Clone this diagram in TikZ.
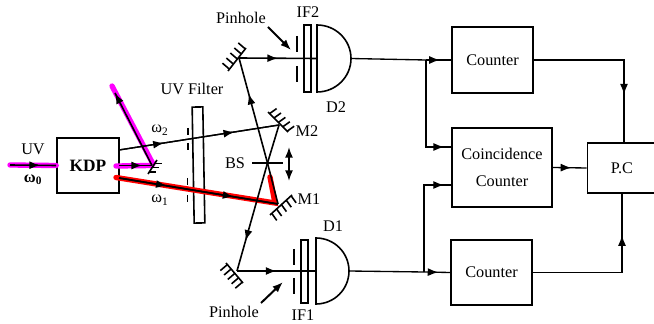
\documentclass[tikz,border=0pt]{standalone}
\usepackage{fontspec}
\setmainfont{Liberation Serif}
\usetikzlibrary{arrows.meta,calc,decorations.markings}
\tikzset{
  box/.style={draw,line width=1.2pt,inner sep=0pt,align=center},
  thin line/.style={line width=1pt},
  beam/.style={line width=1.2pt},
  glow/.style={line width=4pt,line cap=round},
  midtip/.style={postaction={decorate},decoration={markings,mark=at position #1 with {\arrow{Latex[length=8pt,width=6pt]}}}},
  txt/.style={inner sep=0pt,font=\fontsize{12.2pt}{14pt}\selectfont},
}
\definecolor{uvpink}{RGB}{255,0,255}
\definecolor{irred}{RGB}{255,0,0}
% mirror: hatch positions, two ends and the offset of its hatching
\newcommand{\mirror}[4]{
  \draw [line width=1.2pt] (#2) -- (#3);
  \foreach \t in {#1}
    \draw [line width=1.2pt] ($(#2)!\t!(#3)$) -- ++(#4);
}
\begin{document}
\begin{tikzpicture}[x=0.75pt,y=-0.75pt]
  \useasboundingbox (0,0) rectangle (654,324);
  % boxes
  \node [box,minimum width=46.5pt,minimum height=41.25pt,font=\bfseries\fontsize{13pt}{14pt}\selectfont] (kdp) at (88,165.5) {KDP};
  \node [box,minimum width=60.75pt,minimum height=49.5pt,txt] (countertop) at (492.5,60) {Counter};
  \node [box,minimum width=75pt,minimum height=59.25pt,txt] (coincidence) at (502,167.5) {Coincidence\\[6pt]Counter};
  \node [box,minimum width=60.75pt,minimum height=48.75pt,txt] (counterbot) at (491.5,272.5) {Counter};
  \node [box,minimum width=52pt,minimum height=37.5pt,txt] (pc) at (622,168) {P.C};
  \node [box,minimum width=8pt,minimum height=87pt,rotate=1] (filter) at (198.5,165) {};
  \node [box,minimum width=5.25pt,minimum height=50pt] (iftwo) at (307.5,58.5) {};
  \node [box,minimum width=5.25pt,minimum height=47.25pt] (ifone) at (304.5,271.5) {};
  % points of the beams
  \coordinate (uvin) at (10,165);
  \coordinate (kdpout) at (119,165.5);
  \coordinate (turn) at (152,165.5);
  \coordinate (dump) at (115,93);
  \coordinate (dumpend) at (112,86);
  \coordinate (omtwo) at (119,150);
  \coordinate (omone) at (119,178);
  \coordinate (mtwo) at (279,125);
  \coordinate (mone) at (278,204);
  \coordinate (bs) at (267.5,163);
  \coordinate (mtop) at (239,58);
  \coordinate (mbot) at (237,271);
  % detectors
  \draw [line width=1.2pt] (317,25) arc [start angle=-90,end angle=90,x radius=34,y radius=33.5] -- cycle;
  \draw [line width=1.2pt] (316,238) arc [start angle=-90,end angle=90,x radius=33,y radius=33] -- cycle;
  \coordinate (dtwoin) at (317,58.5);
  \coordinate (dtwoout) at (351,58.5);
  \coordinate (doneout) at (349,271);
  \coordinate (donein) at (316,271);
  % pink and red underlay
  \draw [glow,uvpink] (uvin) -- (kdp.west);
  \draw [glow,uvpink] (116,166) -- (turn);
  \draw [glow,uvpink] (153,164) -- (dumpend);
  \draw [glow,irred] (116,177.5) -- (275,203) -- (270,177);
  % beams
  \draw [beam,midtip=0.65] (uvin) -- (kdp.west);
  \draw [beam,midtip=0.7] (kdpout) -- (turn);
  \draw [beam,midtip=1] (turn) -- (dump);
  \draw [thin line,midtip=0.28] (omtwo) -- (mtwo);
  \draw [thin line,midtip=0.72] (omtwo) -- (mtwo);
  \draw [beam,midtip=0.3] (omone) -- (mone);
  \draw [beam,midtip=0.72] (omone) -- (mone);
  \draw [beam] (mtwo) -- (bs) -- (mone);
  \draw [beam,midtip=0.66] (bs) -- (mtop);
  \draw [beam,midtip=0.72] (bs) -- (mbot);
  \draw [beam,midtip=0.5] (mtop) -- (dtwoin);
  \draw [beam,midtip=0.5] (mbot) -- (donein);
  \draw [thin line] (252,163) -- (283,163);
  % mirrors
  \mirror{0.15,0.45,0.75}{148,174}{157,160}{7,0}
  \mirror{0.08,0.3,0.52,0.74,0.96}{228,71}{246,48}{-7,-6}
  \mirror{0.08,0.3,0.52,0.74,0.96}{268,112}{288,132}{7,-5}
  \mirror{0.08,0.3,0.52,0.74,0.96}{270,215}{292,195}{5,7}
  \mirror{0.08,0.3,0.52,0.74,0.96}{226,263}{243,283}{-7,6}
  % slits
  \foreach \a/\b in {188/128,188/143,187.5/178,187.5/195}
    \draw [line width=1.2pt] (\a,\b) -- ++(0,7.5);
  \foreach \a/\b in {297/36,297/66,294/249,294/278}
    \draw [line width=1.2pt] (\a,\b) -- ++(0,16);
  % translation arrow
  \coordinate (shiftup) at (289,147);
  \coordinate (shiftdown) at (289,181);
  \draw [line width=1.2pt,{Latex[length=8pt,width=6pt]}-{Latex[length=8pt,width=6pt]}] (shiftup) -- (shiftdown);
  % pinhole arrows
  \node [txt] (pintop) at (241,18) {Pinhole};
  \node [txt] (pinbot) at (234,312) {Pinhole};
  \coordinate (pintoptip) at (291,50);
  \coordinate (pinbottip) at (283,282);
  \draw [line width=1.5pt,-{Latex[length=8pt,width=6pt]}] (268,27) -- (pintoptip);
  \draw [line width=1.5pt,-{Latex[length=8pt,width=6pt]}] (261,303) -- (pinbottip);
  % signal lines
  \coordinate (jtop) at (426,60);
  \coordinate (jbot) at (424,272);
  \draw [thin line] (dtwoout) -- (jtop);
  \draw [thin line,midtip=0.55] (jtop) -- (countertop.west);
  \draw [thin line,midtip=0.93] (jtop) |- (452,147);
  \draw [thin line] (doneout) -- (jbot);
  \draw [thin line,midtip=0.55] (jbot) -- (counterbot.west);
  \draw [thin line,midtip=0.93] (jbot) |- (452,185);
  \draw [thin line,midtip=0.55] (coincidence.east) -- (pc.west);
  \draw [thin line,midtip=0.72] (countertop.east) -| (624,143);
  \draw [thin line,midtip=0.75] (counterbot.east) -| (622,193);
  % labels
  \node [txt] (uv) at (33,149) {UV};
  \node [txt] (omzero) at (33,180) {\textbf{ω\textsubscript{0}}};
  \node [txt] (omtwolabel) at (160,130) {ω\textsubscript{2}};
  \node [txt] (omonelabel) at (160,200) {ω\textsubscript{1}};
  \node [txt] (uvfilter) at (192,89) {UV Filter};
  \node [txt] (bslabel) at (235,163) {BS};
  \node [txt] (mtwolabel) at (307,131) {M2};
  \node [txt] (monelabel) at (309,199) {M1};
  \node [txt] (iftwolabel) at (308,12) {IF2};
  \node [txt] (ifonelabel) at (303,315) {IF1};
  \node [txt] (dtwolabel) at (336,107) {D2};
  \node [txt] (donelabel) at (333,226) {D1};
\end{tikzpicture}
\end{document}
